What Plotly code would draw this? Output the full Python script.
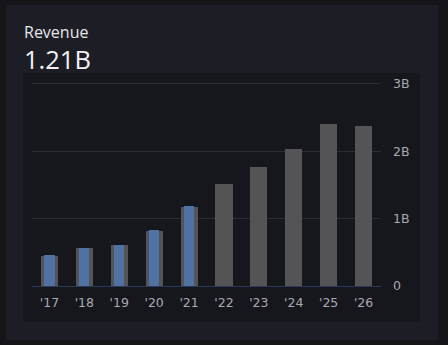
import plotly.graph_objects as go

# ---- data ----
years = ["'17", "'18", "'19", "'20", "'21", "'22", "'23", "'24", "'25", "'26"]
estimate_values = [0.44, 0.56, 0.61, 0.81, 1.17, 1.52, 1.77, 2.04, 2.40, 2.38]  # billions
actual_years = ["'17", "'18", "'19", "'20", "'21"]
actual_values = [0.46, 0.56, 0.61, 0.83, 1.19]  # billions
ytick_vals = [0, 1, 2, 3]
ytick_text = ["0", "1B", "2B", "3B"]
title_text = "Revenue"
value_text = "1.21B"

# ---- layout geometry (pixels) ----
W, H = 448, 345
L, R, T, B = 32, 67, 80, 55
PW, PH = W - L - R, H - T - B


def px(x):
    return (x - L) / PW


def py(y):
    return (H - B - y) / PH


OUTER = "#141419"
CARD = "#1d1e25"
INNER = "#16161d"

fig = go.Figure()
fig.add_trace(go.Bar(
    x=years, y=estimate_values, width=0.49,
    marker=dict(color="#545456", line=dict(width=0)),
    hoverinfo="skip", showlegend=False,
))
fig.add_trace(go.Bar(
    x=actual_years, y=actual_values, width=0.29,
    marker=dict(color="#4f71a4", line=dict(width=0)),
    hoverinfo="skip", showlegend=False,
))

shapes = [
    dict(type="rect", xref="paper", yref="paper", layer="below",
         x0=px(6), x1=px(438), y0=py(340), y1=py(5),
         fillcolor=CARD, line=dict(width=0)),
    dict(type="rect", xref="paper", yref="paper", layer="below",
         x0=px(23), x1=px(420), y0=py(322), y1=py(73),
         fillcolor=INNER, line=dict(width=0)),
]

annotations = [
    dict(text=title_text, xref="paper", yref="paper", x=px(22), y=py(32),
         xanchor="left", yanchor="middle", showarrow=False,
         font=dict(family="Open Sans", size=16, color="#e6e6ea")),
    dict(text=value_text, xref="paper", yref="paper", x=px(22), y=py(59),
         xanchor="left", yanchor="middle", showarrow=False,
         font=dict(family="Open Sans", size=25.5, color="#f2f2f5")),
]

fig.update_layout(
    width=W, height=H,
    margin=dict(l=L, r=R, t=T, b=B, pad=0),
    paper_bgcolor=OUTER, plot_bgcolor="rgba(0,0,0,0)",
    barmode="overlay", bargap=0,
    shapes=shapes, annotations=annotations,
    font=dict(family="DejaVu Sans", size=12, color="#a9a9b1"),
    xaxis=dict(range=[-0.5, 9.5], showgrid=False, zeroline=False,
               showline=False, ticks="", fixedrange=True, ticklabelstandoff=3,
               tickfont=dict(family="DejaVu Sans", size=12.5, color="#a9a9b1")),
    yaxis=dict(range=[-(290 - 286) / 67.4, (286 - 80) / 67.4], side="right",
               tickvals=ytick_vals, ticktext=ytick_text,
               showgrid=True, gridcolor="#2a2b33", gridwidth=1,
               zeroline=True, zerolinecolor="#28395a", zerolinewidth=1,
               showline=False, ticks="", ticklabelstandoff=11, fixedrange=True,
               tickfont=dict(family="DejaVu Sans", size=12.5, color="#a9a9b1")),
)

fig.write_html("out.html", config=dict(displayModeBar=False))
